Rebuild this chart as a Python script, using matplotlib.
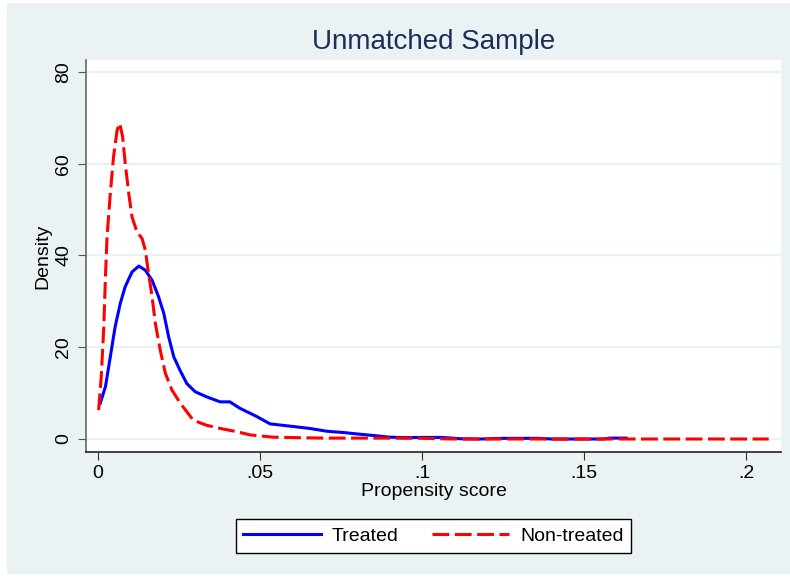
import matplotlib.pyplot as plt
from matplotlib.patches import Rectangle

plt.rcParams['font.family'] = ['Liberation Sans', 'DejaVu Sans']

# 数据
treated_x = [0.0007, 0.0023, 0.0038, 0.0053, 0.0069, 0.0084, 0.0105, 0.0126, 0.0146, 0.0167,
             0.0187, 0.0203, 0.0218, 0.0234, 0.0253, 0.0274, 0.0300, 0.0335, 0.0377, 0.0407,
             0.0438, 0.0490, 0.0531, 0.0593, 0.0654, 0.0706, 0.0760, 0.0800, 0.0860, 0.0900,
             0.0950, 0.1000, 0.1060, 0.1120, 0.1180, 0.1250, 0.1360, 0.1400, 0.1560, 0.1580,
             0.1630]
treated_y = [7.8, 11.4, 17.9, 24.5, 29.6, 33.2, 36.4, 37.7, 36.8, 34.6,
             31.0, 27.4, 22.3, 17.9, 15.0, 12.1, 10.3, 9.2, 8.1, 8.1,
             6.7, 4.9, 3.3, 2.8, 2.3, 1.7, 1.4, 1.1, 0.7, 0.4,
             0.3, 0.35, 0.35, 0.05, 0.0, 0.15, 0.15, 0.0, 0.0, 0.2,
             0.2]

control_x = [0.0002, 0.0010, 0.0018, 0.0023, 0.0028, 0.0038, 0.0048, 0.0059, 0.0067, 0.0076,
             0.0084, 0.0095, 0.0105, 0.0120, 0.0136, 0.0146, 0.0156, 0.0167, 0.0177, 0.0192,
             0.0208, 0.0228, 0.0254, 0.0294, 0.0335, 0.0377, 0.0428, 0.0469, 0.0541, 0.0613,
             0.0700, 0.0850, 0.1000, 0.1100, 0.2070]
control_y = [6.3, 13.6, 24.5, 35.4, 44.1, 53.5, 61.5, 67.3, 68.8, 65.9,
             60.1, 53.5, 48.4, 45.2, 43.7, 41.2, 36.1, 31.0, 25.2, 19.4,
             14.3, 10.7, 7.8, 4.1, 3.0, 2.3, 1.6, 0.9, 0.4, 0.3,
             0.2, 0.2, 0.15, 0.0, 0.0]

x_ticks = [0, 0.05, 0.1, 0.15, 0.2]
x_labels = ['0', '.05', '.1', '.15', '.2']
y_ticks = [0, 20, 40, 60, 80]

bg = '#EAF2F3'

fig = plt.figure(figsize=(7.9, 5.82), dpi=100)
fig.patch.set_facecolor('white')
# Stata 风格的外框背景
fig.patches.append(Rectangle((7 / 790, 8 / 582), 1 - 7 / 790, 1 - 11 / 582,
                             transform=fig.transFigure, facecolor=bg, edgecolor='none', zorder=-10))

ax = fig.add_axes([86 / 790, 1 - 452 / 582, (781 - 86) / 790, (452 - 60) / 582])
ax.set_facecolor('white')

ax.plot(treated_x, treated_y, color='#0000FF', lw=2.2, label='Treated', zorder=3)
ax.plot(control_x, control_y, color='#FF0000', lw=2.2, ls=(0, (5.5, 1.8)),
        label='Non-treated', zorder=4)

ax.set_xlim(-0.0037, 0.2108)
ax.set_ylim(-2.83, 82.6)
ax.set_xticks(x_ticks)
ax.set_xticklabels(x_labels)
ax.set_yticks(y_ticks)
ax.tick_params(axis='y', labelrotation=90, labelsize=14, length=6, color='#555555', pad=4)
for lab in ax.get_yticklabels():
    lab.set_va('center')
ax.tick_params(axis='x', labelsize=14, length=6, color='#333333', pad=3)

ax.grid(axis='y', color=bg, lw=1.6)
ax.set_axisbelow(True)
for s in ['top', 'right']:
    ax.spines[s].set_visible(False)
ax.spines['left'].set_color('#666666')
ax.spines['bottom'].set_color('#222222')
ax.spines['left'].set_linewidth(1.2)
ax.spines['bottom'].set_linewidth(1.2)

ax.set_xlabel('Propensity score', fontsize=14, labelpad=1)
ax.set_ylabel('Density', fontsize=14, labelpad=3)
ax.set_title('Unmatched Sample', fontsize=20, color='#1C2D59', pad=8)

leg = fig.legend(loc='center', bbox_to_anchor=(433.5 / 790, 1 - 536 / 582), ncol=2,
                 fontsize=14, frameon=True, fancybox=False, edgecolor='black',
                 facecolor='white', framealpha=1,
                 handlelength=4.0, handletextpad=0.55, columnspacing=1.7,
                 borderpad=0.4)
leg.get_frame().set_linewidth(1.0)

plt.savefig('out.png', dpi=100, facecolor=fig.get_facecolor())
